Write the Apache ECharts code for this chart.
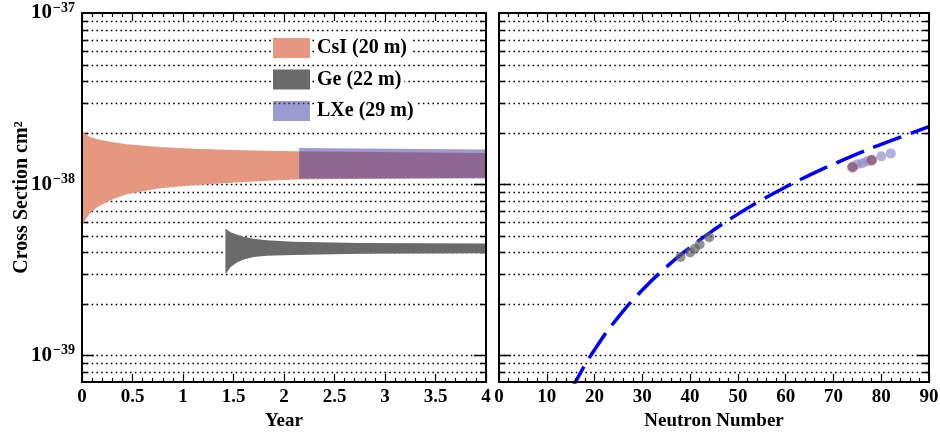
<!DOCTYPE html>
<html>
<head>
<meta charset="utf-8">
<script src="https://cdn.jsdelivr.net/npm/echarts@6/dist/echarts.min.js"></script>
<style>
  html, body { margin: 0; padding: 0; background: #fff; }
  #chart { width: 940px; height: 434px; }
</style>
</head>
<body>
<div id="chart"></div>
<script>
// left panel: uncertainty bands vs. exposure (cross sections in cm^2)
const csiYears = [0, 0.01, 0.03, 0.08, 0.15, 0.28, 0.44, 0.77, 1.1, 1.6, 2.1, 4];
const csiUpper = [2.07e-38, 2.03e-38, 1.98e-38, 1.89e-38, 1.83e-38, 1.77e-38, 1.71e-38, 1.65e-38, 1.61e-38, 1.58e-38, 1.56e-38, 1.52e-38];
const csiLower = [5.38e-39, 5.8e-39, 6.16e-39, 6.77e-39, 7.34e-39, 8.06e-39, 8.74e-39, 9.48e-39, 9.87e-39, 1.031e-38, 1.065e-38, 1.09e-38];

const geYears = [1.42, 1.47, 1.53, 1.6, 1.7, 1.83, 2.09, 2.75, 4];
const geUpper = [5.51e-39, 5.25e-39, 5.08e-39, 4.93e-39, 4.8e-39, 4.71e-39, 4.62e-39, 4.54e-39, 4.5e-39];
const geLower = [2.98e-39, 3.28e-39, 3.48e-39, 3.64e-39, 3.76e-39, 3.82e-39, 3.86e-39, 3.93e-39, 3.96e-39];

const lxeYears = [2.15, 4];
const lxeUpper = [1.63e-38, 1.595e-38];
const lxeLower = [1.08e-38, 1.08e-38];

// right panel: cross section vs neutron number
const curveN = [15, 16, 20, 25, 30, 35, 40, 45, 50, 55, 60, 65, 70, 75, 80, 85, 90];
const curveXs = [6.0e-40, 7.0e-40, 1.08e-39, 1.68e-39, 2.41e-39, 3.28e-39, 4.28e-39, 5.42e-39, 6.69e-39,
  8.1e-39, 9.63e-39, 1.13e-38, 1.31e-38, 1.505e-38, 1.71e-38, 1.93e-38, 2.17e-38];
const geN = [38, 40, 41, 42, 44];
const geXs = [3.76e-39, 4.0e-39, 4.2e-39, 4.45e-39, 4.9e-39];
const xeN = [74, 75, 76, 77, 78, 80, 82];
const xeXs = [1.27e-38, 1.31e-38, 1.325e-38, 1.36e-38, 1.39e-38, 1.455e-38, 1.514e-38];
const csiN = [74, 78];
const csiXs = [1.256e-38, 1.379e-38];

const yMin = 7e-40, yMax = 1e-37;
const majorTicks = [1e-39, 1e-38];
const minorTicks = [8e-40, 9e-40, 2e-39, 3e-39, 4e-39, 5e-39, 6e-39, 7e-39, 8e-39, 9e-39,
  2e-38, 3e-38, 4e-38, 5e-38, 6e-38, 7e-38, 8e-38, 9e-38];

// the log axis loses precision on values this small, so plot in units of 1e-39 cm^2
const UNIT_EXP = -39;
const s = v => v * Math.pow(10, -UNIT_EXP);

const FONT = 'Liberation Serif';
const chart = echarts.init(document.getElementById('chart'));

function band(name, xs, up, lo, color) {
  return {
    type: 'custom', name: name, xAxisIndex: 0, yAxisIndex: 0, z: 3,
    itemStyle: { color: color },
    data: [[xs[0], s(up[0])]],
    renderItem: function (params, api) {
      const pts = [];
      for (let i = 0; i < xs.length; i++) pts.push(api.coord([xs[i], s(up[i])]));
      for (let i = xs.length - 1; i >= 0; i--) pts.push(api.coord([xs[i], s(lo[i])]));
      return { type: 'polygon', shape: { points: pts }, style: { fill: color } };
    }
  };
}

// dotted horizontal grid plus solid ticks on both frame edges
function gridLines(ai) {
  const data = majorTicks.map(v => [0, s(v), 1]).concat(minorTicks.map(v => [0, s(v), 0]));
  return {
    type: 'custom', xAxisIndex: ai, yAxisIndex: ai, z: 1, silent: true,
    encode: { x: 0, y: 1 },
    data: data,
    renderItem: function (params, api) {
      const cs = params.coordSys;
      const y = Math.round(api.coord([0, api.value(1)])[1]) + 0.5;
      const len = api.value(2) ? 12 : 6;
      const solid = { stroke: '#000', lineWidth: 1.5 };
      return {
        type: 'group',
        children: [
          { type: 'line', shape: { x1: cs.x, y1: y, x2: cs.x + cs.width, y2: y },
            style: { stroke: '#000', lineWidth: 1.4, lineDash: [1.6, 3.2] } },
          { type: 'line', shape: { x1: cs.x, y1: y, x2: cs.x + len, y2: y }, style: solid },
          { type: 'line', shape: { x1: cs.x + cs.width - len, y1: y, x2: cs.x + cs.width, y2: y }, style: solid }
        ]
      };
    }
  };
}

function xAxisPair(gi, max, interval, name) {
  const base = {
    type: 'value', gridIndex: gi, min: 0, max: max, interval: interval, z: 10,
    axisLine: { show: true, onZero: false, lineStyle: { color: '#000', width: 2 } },
    axisTick: { show: true, inside: true, length: 8, lineStyle: { color: '#000', width: 1.2 } },
    minorTick: { show: true, splitNumber: 5, length: 4, lineStyle: { color: '#000', width: 1.2 } },
    splitLine: { show: false }
  };
  return [
    Object.assign({}, base, {
      position: 'bottom', name: name, nameLocation: 'middle', nameGap: 30,
      nameTextStyle: { fontFamily: FONT, fontWeight: 'bold', fontSize: 19, color: '#000' },
      axisLabel: { margin: 6, fontFamily: FONT, fontWeight: 'bold', fontSize: 19, color: '#000' }
    }),
    Object.assign({}, base, { position: 'top', axisLabel: { show: false } })
  ];
}

function yAxisPair(gi, withLabels) {
  const base = {
    type: 'log', logBase: 10, gridIndex: gi, min: s(yMin), max: s(yMax), z: 10,
    axisLine: { show: true, onZero: false, lineStyle: { color: '#000', width: 2 } },
    axisTick: { show: false },
    splitLine: { show: false }
  };
  const left = Object.assign({}, base, { position: 'left' });
  if (withLabels) {
    left.name = 'Cross Section cm²';
    left.nameLocation = 'middle';
    left.nameGap = 50;
    left.nameMoveOverlap = false;
    left.nameTextStyle = { fontFamily: FONT, fontWeight: 'bold', fontSize: 20, color: '#000' };
    left.axisLabel = {
      margin: 7, color: '#000', showMinLabel: true, showMaxLabel: true,
      formatter: function (val) {
        if (!(val > 0)) return '';
        const e = Math.round(Math.log10(val));
        if (Math.abs(val / Math.pow(10, e) - 1) > 1e-6) return '';
        return '{b|10}{s|\u2212' + (-(e + UNIT_EXP)) + '}';
      },
      rich: {
        b: { fontFamily: FONT, fontWeight: 'bold', fontSize: 21, color: '#000', lineHeight: 24 },
        s: { fontFamily: FONT, fontWeight: 'bold', fontSize: 14, color: '#000', verticalAlign: 'top', padding: [0, 0, 0, 1] }
      }
    };
  } else {
    left.axisLabel = { show: false };
  }
  const right = Object.assign({}, base, { position: 'right', axisLabel: { show: false } });
  return [left, right];
}

const legendText = {
  fontFamily: FONT, fontWeight: 'bold', fontSize: 20, color: '#000',
  backgroundColor: '#fff', padding: [1, 3, 1, 2]
};

const option = {
  backgroundColor: '#fff',
  animation: false,
  grid: [
    { left: 82, top: 13, width: 404, height: 369, containLabel: false, outerBoundsMode: 'none' },
    { left: 499, top: 13, width: 430, height: 369, containLabel: false, outerBoundsMode: 'none' }
  ],
  legend: {
    left: 268, top: 32, orient: 'vertical', itemWidth: 37, itemHeight: 20, itemGap: 9.5,
    icon: 'rect', textStyle: legendText,
    data: ['CsI (20 m)', 'Ge (22 m)', 'LXe (29 m)']
  },
  xAxis: xAxisPair(0, 4, 0.5, 'Year').concat(xAxisPair(1, 90, 10, 'Neutron Number')),
  yAxis: yAxisPair(0, true).concat(yAxisPair(1, false)),
  series: [
    gridLines(0),
    gridLines(2),
    band('CsI (20 m)', csiYears, csiUpper, csiLower, '#e5987f'),
    band('Ge (22 m)', geYears, geUpper, geLower, '#6a6a6a'),
    band('LXe (29 m)', lxeYears, lxeUpper, lxeLower, 'rgba(55,55,165,0.5)'),
    {
      type: 'line', xAxisIndex: 2, yAxisIndex: 2, z: 4, smooth: true, showSymbol: false, silent: true,
      clip: true,
      lineStyle: { color: '#0000ff', width: 3.5, type: [30, 10] },
      data: curveN.map((n, i) => [n, s(curveXs[i])])
    },
    {
      type: 'scatter', xAxisIndex: 2, yAxisIndex: 2, z: 5, symbolSize: 10,
      itemStyle: { color: 'rgba(95,95,95,0.85)' },
      data: geN.map((n, i) => [n, s(geXs[i])])
    },
    {
      type: 'scatter', xAxisIndex: 2, yAxisIndex: 2, z: 5, symbolSize: 10,
      itemStyle: { color: 'rgba(140,140,205,0.85)' },
      data: xeN.map((n, i) => [n, s(xeXs[i])])
    },
    {
      type: 'scatter', xAxisIndex: 2, yAxisIndex: 2, z: 6, symbolSize: 10,
      itemStyle: { color: 'rgba(135,85,120,0.95)', borderColor: 'rgba(205,110,100,0.7)', borderWidth: 1 },
      data: csiN.map((n, i) => [n, s(csiXs[i])])
    }
  ]
};

chart.setOption(option);
</script>
</body>
</html>
